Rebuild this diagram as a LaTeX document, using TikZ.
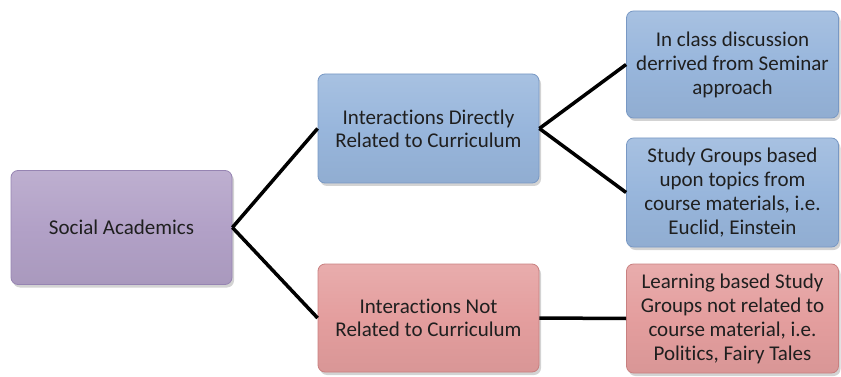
\documentclass[tikz,border=0pt]{standalone}
\usepackage{fontspec}
\setmainfont{Carlito}[RawFeature={-liga;-clig;-dlig}]
\usetikzlibrary{shadows}
\definecolor{purpfill}{RGB}{178,161,199}
\definecolor{purpedge}{RGB}{150,132,178}
\definecolor{bluefill}{RGB}{152,182,220}
\definecolor{blueedge}{RGB}{120,152,196}
\definecolor{redfill}{RGB}{228,158,158}
\definecolor{rededge}{RGB}{200,128,128}
\tikzset{
  boxbase/.style={rectangle, rounded corners=7pt, line width=0.8pt, align=center,
    font=\fontsize{21}{23}\selectfont, text=black!88, inner sep=2pt,
    drop shadow={shadow xshift=2pt, shadow yshift=-3pt, opacity=0.35}},
  tallfont/.style={font=\fontsize{21}{24}\selectfont},
  purpbox/.style={boxbase, draw=purpedge, top color=purpfill!85!white, bottom color=purpfill!95!black, middle color=purpfill},
  bluebox/.style={boxbase, draw=blueedge, top color=bluefill!85!white, bottom color=bluefill!95!black, middle color=bluefill},
  redbox/.style={boxbase, draw=rededge, top color=redfill!85!white, bottom color=redfill!95!black, middle color=redfill},
  link/.style={line width=3.5pt, black}
}
\begin{document}
\begin{tikzpicture}[x=1pt,y=-1pt]
\useasboundingbox (0,0) rectangle (841,377);
\node[purpbox, minimum width=221pt, minimum height=114pt] (sa) at (121.5,227.5) {Social Academics};
\node[bluebox, minimum width=221pt, minimum height=109pt] (dir) at (428.5,128.5) {Interactions Directly\\Related to Curriculum};
\node[redbox, minimum width=221pt, minimum height=108pt] (not) at (428.5,318) {Interactions Not\\Related to Curriculum};
\node[bluebox, tallfont, minimum width=212pt, minimum height=107pt] (cls) at (732.5,64.5) {In class discussion\\derrived from Seminar\\approach};
\node[bluebox, tallfont, minimum width=212pt, minimum height=109pt] (stg) at (732.5,192.5) {Study Groups based\\upon topics from\\course materials, i.e.\\Euclid, Einstein};
\node[redbox, tallfont, minimum width=212pt, minimum height=109pt] (lrn) at (732.5,318.5) {Learning based Study\\Groups not related to\\course material, i.e.\\Politics, Fairy Tales};
\draw[link] (sa.east) -- (dir.west);
\draw[link] (sa.east) -- (not.west);
\draw[link] (dir.east) -- (cls.west);
\draw[link] (dir.east) -- (stg.west);
\draw[link] (not.east) -- (lrn.west);
\end{tikzpicture}
\end{document}
